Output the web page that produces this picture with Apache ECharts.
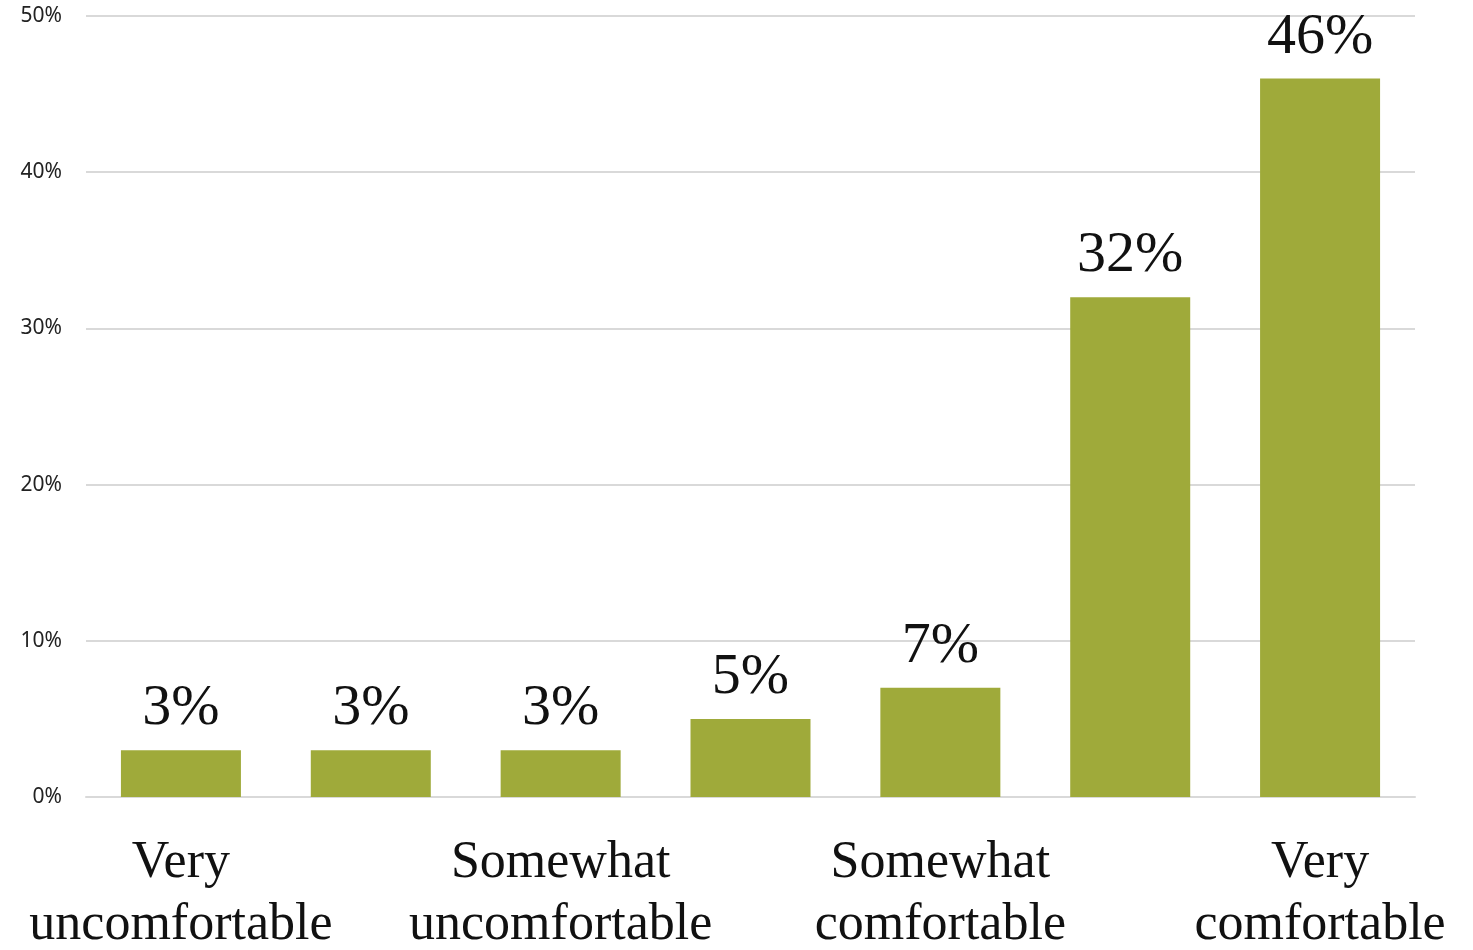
<!DOCTYPE html>
<html><head><meta charset="utf-8">
<script src="https://cdn.jsdelivr.net/npm/echarts@6/dist/echarts.min.js"></script>
<style>html,body{margin:0;padding:0;background:#fff}#c{width:1473px;height:950px}</style>
</head><body><div id="c"></div>
<script>
const categories = ["Very\nuncomfortable", "", "Somewhat\nuncomfortable", "", "Somewhat\ncomfortable", "", "Very\ncomfortable"];
const values = [3, 3, 3, 5, 7, 32, 46];
const yTicks = [0, 10, 20, 30, 40, 50];

const chart = echarts.init(document.getElementById('c'));
chart.setOption({
  animation: false,
  grid: {left: 86, right: 58, top: 16, bottom: 153, containLabel: false, outerBoundsMode: 'none'},
  xAxis: {
    type: 'category', data: categories,
    axisTick: {show: false},
    axisLine: {lineStyle: {color: '#d9d9d9', width: 2}},
    axisLabel: {interval: 0, margin: 35, fontFamily: 'Liberation Serif', fontSize: 52, lineHeight: 62, color: '#111', verticalAlign: 'top'}
  },
  yAxis: {
    type: 'value', min: yTicks[0], max: yTicks[yTicks.length-1], interval: 10,
    axisLine: {show: false}, axisTick: {show: false},
    splitLine: {lineStyle: {color: '#d9d9d9', width: 2}},
    axisLabel: {formatter: '{value}%', margin: 24, fontFamily: 'Noto Sans', fontSize: 21, color: '#222'}
  },
  series: [{
    type: 'bar', data: values, barWidth: 120,
    itemStyle: {color: '#9FAA3A'},
    label: {show: true, position: 'top', distance: 12, formatter: '{c}%', fontFamily: 'Liberation Serif', fontSize: 58, color: '#111'}
  }]
});
</script></body></html>
